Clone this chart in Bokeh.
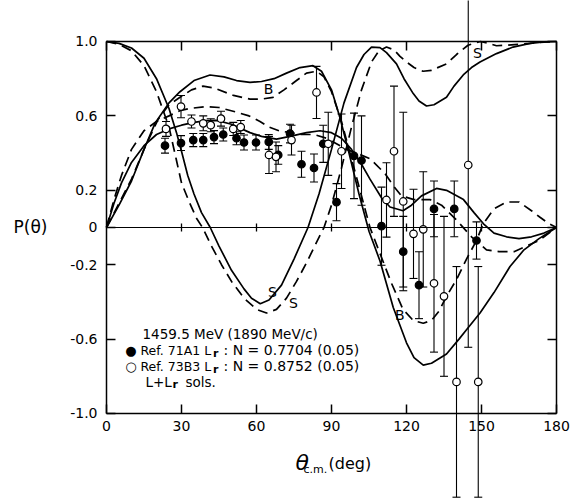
import numpy as np
from bokeh.plotting import figure
from bokeh.models import (ColumnDataSource, Whisker, TeeHead, Label,
                          LinearAxis, FixedTicker, Range1d)
from bokeh.embed import file_html
from bokeh.resources import INLINE

# ---- partial-wave solution curves: P(theta) vs theta_cm (deg) ----
s_solid_deg = [0, 5, 10, 15, 20, 25, 28, 30, 32.5, 35, 38, 41.5, 45, 50, 55, 58, 61.5, 65, 70, 75,
               80.6, 85, 90, 95, 100, 103, 106, 109.4, 112, 116, 119, 122.7, 125, 128, 131, 136,
               139, 142.7, 146, 149.4, 156, 162.6, 169.4, 175, 180]
s_solid_p = [1.0, 0.99, 0.965, 0.91, 0.8, 0.64, 0.51, 0.41, 0.28, 0.18, 0.08, 0.0, -0.1, -0.23,
             -0.33, -0.38, -0.41, -0.39, -0.31, -0.17, 0.0, 0.18, 0.42, 0.67, 0.86, 0.93, 0.97,
             0.967, 0.94, 0.88, 0.8, 0.72, 0.68, 0.653, 0.66, 0.70, 0.76, 0.82, 0.86, 0.89, 0.935,
             0.97, 0.99, 0.998, 1.0]

s_dash_deg = [0, 5, 10, 15, 20, 25, 28, 30, 33, 36, 38.4, 42, 46, 50, 55, 60, 64, 68, 72, 76, 80,
              84, 87, 90, 94, 98, 102, 106, 109, 112, 115, 117.4, 120, 123, 126.6, 130, 136, 140,
              144.6, 149.6, 153, 156, 160, 165, 169.4, 175, 180]
s_dash_p = [1.0, 0.985, 0.95, 0.87, 0.73, 0.54, 0.36, 0.24, 0.14, 0.05, 0.0, -0.1, -0.2, -0.29,
            -0.38, -0.44, -0.46, -0.44, -0.38, -0.29, -0.19, -0.08, 0.0, 0.12, 0.32, 0.54, 0.74,
            0.89, 0.95, 0.97, 0.955, 0.92, 0.89, 0.86, 0.84, 0.845, 0.88, 0.93, 0.98, 1.0, 0.99,
            0.977, 0.98, 0.985, 0.99, 0.997, 1.0]

b_solid_deg = [0, 5, 10, 15, 19.4, 25, 29.4, 35, 41.4, 47, 52, 57.4, 62, 67, 72, 77.4, 82.6, 86,
               90, 93.4, 97, 101, 105, 109.4, 114.7, 120, 123, 126.7, 130, 136, 141, 144, 149.4,
               155, 161.4, 167, 173, 180]
b_solid_p = [0, 0.12, 0.25, 0.42, 0.56, 0.67, 0.73, 0.79, 0.82, 0.81, 0.79, 0.78, 0.785, 0.8, 0.83,
             0.86, 0.87, 0.84, 0.74, 0.59, 0.4, 0.18, -0.02, -0.18, -0.43, -0.62, -0.7, -0.74,
             -0.73, -0.68, -0.6, -0.55, -0.46, -0.35, -0.21, -0.12, -0.06, 0]

b_dash_deg = [0, 5, 10, 15, 20.6, 25, 29.4, 34, 38.6, 43, 50.8, 57.4, 62, 66.6, 71, 76, 80, 84, 87,
              90, 94, 98, 102, 105.4, 109.4, 114, 118.6, 122.7, 126.7, 130, 133, 136, 140, 144,
              148, 150.7, 155, 160, 165, 170, 173.4, 177, 180]
b_dash_p = [0, 0.13, 0.26, 0.42, 0.58, 0.66, 0.70, 0.74, 0.76, 0.75, 0.71, 0.69, 0.69, 0.70, 0.74,
            0.79, 0.83, 0.84, 0.81, 0.73, 0.57, 0.37, 0.17, 0.0, -0.14, -0.3, -0.44, -0.5, -0.515,
            -0.5, -0.45, -0.37, -0.28, -0.17, -0.07, 0.02, 0.1, 0.137, 0.137, 0.09, 0.055, 0.02, 0]

m_solid_deg = [0, 3, 6, 10, 15, 20, 25, 30, 35, 40, 44, 50, 57.4, 62, 68, 73.4, 80, 85.4, 90, 94,
               98, 102, 105.4, 110, 113.4, 118.6, 122, 126, 132, 136, 142.8, 147, 150.8, 155, 160,
               165, 170, 175, 180]
m_solid_p = [0, 0.13, 0.24, 0.35, 0.44, 0.5, 0.53, 0.55, 0.565, 0.575, 0.576, 0.555, 0.51, 0.49,
             0.475, 0.49, 0.51, 0.52, 0.51, 0.48, 0.42, 0.34, 0.26, 0.16, 0.11, 0.09, 0.12, 0.17,
             0.21, 0.2, 0.15, 0.08, 0.02, -0.03, -0.05, -0.06, -0.05, -0.03, 0]

m_dash_deg = [0, 3, 6, 10, 15, 20, 25, 29.8, 33.4, 40, 45, 52, 57, 61.4, 65, 69, 73.4, 78, 83, 88,
              92, 96, 100, 105.4, 111.4, 115, 118, 123, 129.4, 134, 140, 146, 152, 157, 163, 168,
              173, 180]
m_dash_p = [0, 0.15, 0.28, 0.42, 0.52, 0.57, 0.6, 0.63, 0.64, 0.65, 0.645, 0.62, 0.6, 0.57, 0.54,
            0.52, 0.51, 0.5, 0.5, 0.48, 0.45, 0.42, 0.4, 0.37, 0.29, 0.22, 0.17, 0.15, 0.15, 0.12,
            0.04, -0.05, -0.12, -0.13, -0.13, -0.1, -0.07, 0]

# ---- measurements ----
# Ref. 71A1 (filled)
a_deg = [23.4, 29.8, 34.7, 38.7, 43.0, 46.7, 52.0, 55.0, 59.8, 64.9, 68.7, 73.4, 78.0, 83.0,
         86.7, 92.0, 99.0, 102.0, 110.0, 118.7, 125.0, 131.0, 139.1, 148.0]
a_p = [0.44, 0.454, 0.47, 0.47, 0.486, 0.50, 0.48, 0.457, 0.457, 0.46, 0.39, 0.505, 0.34, 0.32,
       0.45, 0.136, 0.385, 0.36, 0.007, -0.13, -0.31, 0.10, 0.10, -0.07]
a_err = [0.04, 0.04, 0.035, 0.035, 0.035, 0.035, 0.035, 0.04, 0.04, 0.04, 0.05, 0.05, 0.07,
         0.075, 0.1, 0.1, 0.23, 0.24, 0.21, 0.19, 0.18, 0.15, 0.15, 0.1]

# Ref. 73B3 (open)
b_deg = [23.8, 29.8, 34.0, 38.7, 41.7, 45.8, 50.7, 53.7, 65.0, 67.8, 74.0, 84.0, 88.7, 94.0,
         112.0, 115.0, 118.7, 122.8, 126.7, 131.0, 135.0, 140.0, 144.7, 148.7]
b_p = [0.53, 0.65, 0.57, 0.56, 0.55, 0.585, 0.53, 0.54, 0.39, 0.38, 0.47, 0.726, 0.45, 0.41,
       0.148, 0.41, 0.14, -0.034, -0.01, -0.30, -0.37, -0.83, 0.336, -0.83]
b_err = [0.04, 0.06, 0.035, 0.04, 0.035, 0.04, 0.035, 0.035, 0.1, 0.08, 0.08, 0.14, 0.17, 0.2,
         0.2, 0.35, 0.48, 0.24, 0.31, 0.37, 0.43, 0.62, 0.98, 0.62]

x_ticks = [0, 30, 60, 90, 120, 150, 180]
y_ticks = [-1.0, -0.6, -0.2, 0.0, 0.2, 0.6, 1.0]
y_tick_labels = ["-1.0", "-0.6", "-0.2", "0", "0.2", "0.6", "1.0"]

FONT = "DejaVu Sans"

# The frame fills the whole canvas; the boxed axes are pinned at the data limits
# so that long error bars and titles can run past the box.
p = figure(width=571, height=498, x_range=Range1d(-42.4, 186.0),
           y_range=Range1d(-1.457, 1.2204),
           output_backend="svg", toolbar_location=None,
           min_border_left=0, min_border_right=0, min_border_top=0, min_border_bottom=0)
p.grid.visible = False
p.background_fill_color = "white"
p.border_fill_color = "white"
p.outline_line_color = None

p.add_layout(LinearAxis(), "right")
p.add_layout(LinearAxis(), "above")
zero_axis = LinearAxis()
p.add_layout(zero_axis, "below")

bottom, left = p.below[0], p.left[0]
right, top = p.right[0], p.above[0]

for ax, loc in ((bottom, -1.0), (top, 1.0), (zero_axis, 0.0)):
    ax.fixed_location = loc
    ax.bounds = (0, 180)
    ax.ticker = FixedTicker(ticks=x_ticks)
for ax, loc in ((left, 0.0), (right, 180.0)):
    ax.fixed_location = loc
    ax.bounds = (-1, 1)
    ax.ticker = FixedTicker(ticks=y_ticks)

for ax in (bottom, left, right, top, zero_axis):
    ax.major_tick_in = 9
    ax.major_tick_out = 0
    ax.minor_tick_in = 0
    ax.minor_tick_out = 0
    ax.axis_line_width = 1.5
    ax.major_tick_line_width = 1.5
    ax.major_label_text_font = FONT
    ax.major_label_text_font_size = "14px"
    ax.major_label_text_color = "black"

left.major_label_overrides = {t: s for t, s in zip(y_ticks, y_tick_labels)}
left.major_label_standoff = 9
bottom.major_label_standoff = 8
right.major_label_overrides = {t: "" for t in y_ticks}
top.major_label_overrides = {t: "" for t in x_ticks}

# zero line: thin axis with short crossing ticks
zero_axis.ticker = FixedTicker(ticks=x_ticks[1:-1])
zero_axis.major_label_overrides = {t: "" for t in x_ticks}
zero_axis.axis_line_width = 1.2
zero_axis.major_tick_in = 4
zero_axis.major_tick_out = 4
zero_axis.major_tick_line_width = 1.3

# curves
LW = 1.7
DASH = "10 6"
p.line(s_solid_deg, s_solid_p, line_color="black", line_width=LW)
p.line(s_dash_deg, s_dash_p, line_color="black", line_width=LW, line_dash=DASH)
p.line(b_solid_deg, b_solid_p, line_color="black", line_width=LW)
p.line(b_dash_deg, b_dash_p, line_color="black", line_width=LW, line_dash=DASH)
p.line(m_solid_deg, m_solid_p, line_color="black", line_width=LW)
p.line(m_dash_deg, m_dash_p, line_color="black", line_width=LW, line_dash=DASH)

# error bars and points
def add_points(deg, val, err, fill):
    src = ColumnDataSource(dict(x=deg, y=val,
                                upper=[v + e for v, e in zip(val, err)],
                                lower=[v - e for v, e in zip(val, err)]))
    w = Whisker(source=src, base="x", upper="upper", lower="lower",
                line_color="black", line_width=1.1,
                upper_head=TeeHead(size=8, line_color="black", line_width=1.1),
                lower_head=TeeHead(size=8, line_color="black", line_width=1.1))
    p.add_layout(w)
    p.scatter("x", "y", source=src, marker="circle", size=7.5,
              fill_color=fill, line_color="black", line_width=1.2)

add_points(a_deg, a_p, a_err, "black")
add_points(b_deg, b_p, b_err, "white")

def txt(x, y, s, size="13px", align="center", baseline="middle", style="normal"):
    p.add_layout(Label(x=x, y=y, text=s, text_font=FONT, text_font_size=size,
                       text_align=align, text_baseline=baseline, text_font_style=style,
                       text_color="black"))

# curve labels
txt(64.8, 0.743, "B", size="14px")
txt(117.3, -0.472, "B", size="14px")
txt(66.4, -0.349, "S", size="14px")
txt(74.8, -0.408, "S", size="14px")
txt(148.4, 0.937, "S", size="14px")

# legend block
txt(14.4, -0.575, "1459.5 MeV (1890 MeV/c)", size="13.5px", align="left", baseline="alphabetic")
txt(9.8, -0.661, "\u25cf", size="13px", align="center", baseline="alphabetic")
txt(13.6, -0.661, "Ref. 71A1 L", size="12.5px", align="left", baseline="alphabetic")
txt(42.6, -0.677, "r", size="11px", align="left", baseline="alphabetic", style="bold")
txt(46.8, -0.661, ": N = 0.7704 (0.05)", size="14px", align="left", baseline="alphabetic")
txt(9.8, -0.747, "\u25cb", size="13px", align="center", baseline="alphabetic")
txt(13.6, -0.747, "Ref. 73B3 L", size="12.5px", align="left", baseline="alphabetic")
txt(42.6, -0.763, "r", size="11px", align="left", baseline="alphabetic", style="bold")
txt(46.8, -0.747, ": N = 0.8752 (0.05)", size="14px", align="left", baseline="alphabetic")
txt(15.6, -0.828, "L+L", size="13.5px", align="left", baseline="alphabetic")
txt(26.4, -0.844, "r", size="11px", align="left", baseline="alphabetic", style="bold")
txt(31.6, -0.828, "sols.", size="13.5px", align="left", baseline="alphabetic")

# axis titles
txt(-30.4, 0.0, "P(\u03b8)", size="17px")
txt(75.6, -1.263, "\u03b8", size="22px", align="left", baseline="alphabetic", style="italic")
txt(78.8, -1.30, "c.m.", size="11px", align="left", baseline="alphabetic")
txt(88.8, -1.27, "(deg)", size="16px", align="left", baseline="alphabetic")

open("out.html", "w").write(file_html(p, INLINE))
